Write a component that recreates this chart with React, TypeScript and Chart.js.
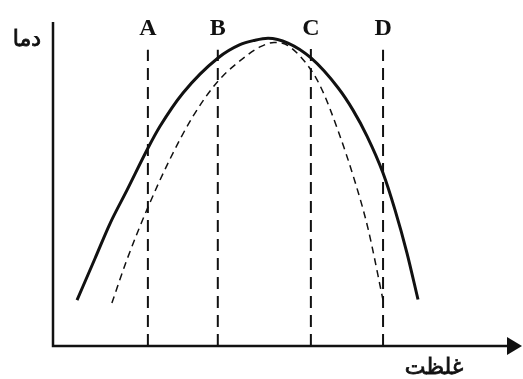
import React, { useEffect, useRef } from "react";
import { Chart, registerables } from "chart.js";

Chart.register(...registerables);

// Solid curve (x: concentration, y: temperature), units 0..100
const solidX = [5.29, 9.25, 12.56, 16.3, 20.93, 23.57, 28.63, 36.34, 41.19, 44.27, 47.36, 51.76, 56.83, 62.78, 66.08, 69.16, 72.69, 75.33, 77.97, 80.4];
const solidY = [14.17, 27.0, 37.8, 48.1, 61.1, 67.8, 78.1, 88.9, 93.0, 94.3, 95.0, 93.5, 88.9, 79.7, 72.8, 64.8, 53.4, 42.0, 28.7, 14.35];

// Dashed curve
const dashX = [12.97, 16.3, 20.7, 25.77, 30.84, 36.34, 42.73, 45.59, 48.68, 51.76, 56.83, 59.25, 62.78, 66.52, 69.38, 72.69];
const dashY = [13.27, 26.7, 42.1, 57.7, 70.9, 81.7, 89.7, 92.3, 93.7, 92.7, 85.2, 79.1, 66.5, 50.7, 36.3, 14.2];

// Vertical marker lines
const markerLabels = ["A", "B", "C", "D"];
const markerX = [20.9, 36.3, 56.8, 72.7];
const markerTop = [91.4, 91.4, 92.9, 91.4];

const yAxisTitle = "دما";
const xAxisTitle = "غلظت";

export default function App() {
  const ref = useRef<HTMLCanvasElement | null>(null);

  useEffect(() => {
    if (!ref.current) return;
    const solid = solidX.map((x, i) => ({ x, y: solidY[i] }));
    const dashed = dashX.map((x, i) => ({ x, y: dashY[i] }));
    const markers = markerX.map((x, i) => ({
      type: "line" as const,
      data: [
        { x, y: 0 },
        { x, y: markerTop[i] },
      ],
      borderColor: "#111",
      borderWidth: 2,
      borderDash: [12, 7],
      pointRadius: 0,
      fill: false,
    }));

    const overlay = {
      id: "overlay",
      afterDatasetsDraw(chart: any) {
        const ctx = chart.ctx;
        const { left, right, top, bottom } = chart.chartArea;
        const xs = chart.scales.x;
        ctx.save();
        ctx.strokeStyle = "#111";
        ctx.fillStyle = "#111";
        ctx.lineWidth = 2.5;
        ctx.lineCap = "butt";
        ctx.beginPath();
        ctx.moveTo(left, top);
        ctx.lineTo(left, bottom);
        ctx.lineTo(right + 2, bottom);
        ctx.stroke();
        ctx.beginPath();
        ctx.moveTo(right, bottom - 9);
        ctx.lineTo(right + 15, bottom);
        ctx.lineTo(right, bottom + 9);
        ctx.closePath();
        ctx.fill();

        ctx.font = "bold 24px 'Liberation Serif', 'Times New Roman', serif";
        ctx.textAlign = "center";
        ctx.textBaseline = "alphabetic";
        markerLabels.forEach((l, i) => {
          ctx.fillText(l, xs.getPixelForValue(markerX[i]), 35);
        });

        ctx.direction = "rtl";
        ctx.textAlign = "center";
        ctx.lineWidth = 0.8;
        ctx.font = "22px 'DejaVu Sans', sans-serif";
        ctx.fillText(yAxisTitle, 27, 46);
        ctx.strokeText(yAxisTitle, 27, 46);
        ctx.font = "22px 'DejaVu Sans', sans-serif";
        ctx.fillText(xAxisTitle, 434, 374);
        ctx.strokeText(xAxisTitle, 434, 374);
        ctx.restore();
      },
    };

    const chart = new Chart(ref.current, {
      type: "line",
      data: {
        datasets: [
          {
            data: solid,
            borderColor: "#111",
            borderWidth: 3,
            pointRadius: 0,
            cubicInterpolationMode: "monotone",
            fill: false,
          },
          {
            data: dashed,
            borderColor: "#111",
            borderWidth: 1.5,
            borderDash: [7, 5],
            pointRadius: 0,
            cubicInterpolationMode: "monotone",
            fill: false,
          },
          ...markers,
        ] as any,
      },
      options: {
        animation: false,
        responsive: false,
        devicePixelRatio: 1,
        layout: { padding: { left: 53, top: 22, right: 16, bottom: 33 } },
        plugins: { legend: { display: false }, tooltip: { enabled: false } },
        scales: {
          x: { type: "linear", min: 0, max: 100, display: false },
          y: { type: "linear", min: 0, max: 100, display: false },
        },
      },
      plugins: [overlay],
    });
    return () => chart.destroy();
  }, []);

  return (
    <div style={{ position: "absolute", left: 0, top: 0, width: 523, height: 379, background: "#fff" }}>
      <canvas ref={ref} width={523} height={379} style={{ width: 523, height: 379 }} />
    </div>
  );
}
